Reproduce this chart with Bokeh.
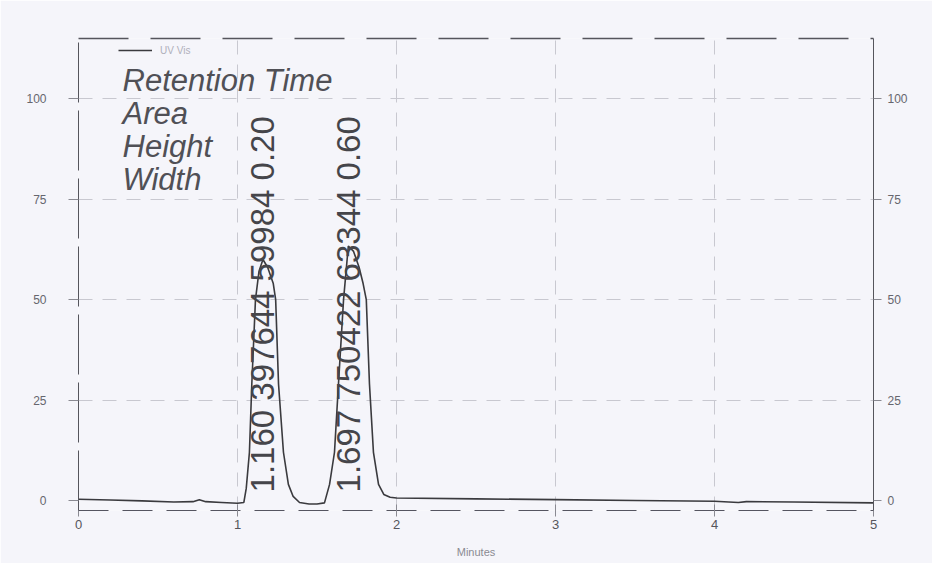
import math

from bokeh.plotting import figure
from bokeh.models import (Range1d, LinearAxis, FixedTicker, Label, Legend,
                          LegendItem, ColumnDataSource)
from bokeh.core.properties import value
from bokeh.embed import file_html
from bokeh.resources import INLINE

# UV-Vis chromatogram trace: time (min) and detector signal (mV)
time_min = [0.00, 0.20, 0.40, 0.60, 0.72, 0.76, 0.80, 0.90, 1.00, 1.040,
            1.055, 1.075, 1.090, 1.113, 1.135, 1.160, 1.190, 1.225, 1.240,
            1.258, 1.289, 1.320, 1.350, 1.390, 1.450, 1.500, 1.547, 1.579,
            1.610, 1.635, 1.667, 1.685, 1.697, 1.730, 1.765, 1.790, 1.810,
            1.830, 1.855, 1.887, 1.920, 1.960, 2.000, 2.500, 3.000, 3.500,
            4.000, 4.150, 4.200, 4.500, 5.000]
signal_mv = [0.3, 0.1, -0.1, -0.4, -0.3, 0.2, -0.3, -0.5, -0.7, -0.5,
             3.0, 12.0, 29.0, 50.0, 57.0, 59.984, 58.0, 54.0, 50.0,
             29.0, 12.0, 4.0, 1.0, -0.5, -0.9, -0.9, -0.6, 4.0,
             12.0, 29.0, 50.0, 58.0, 63.344, 62.0, 58.0, 54.0, 50.0,
             29.0, 12.0, 4.0, 1.5, 0.8, 0.6, 0.4, 0.2, 0.0,
             -0.2, -0.5, -0.3, -0.4, -0.6]

# integration results for the two peaks
peak_rt = [1.160, 1.697]
peak_area = [397644, 750422]
peak_height = [59984, 63344]
peak_width = [0.20, 0.60]

header_lines = ["Retention Time", "Area", "Height", "Width"]
y_ticks = [0, 25, 50, 75, 100]
x_ticks = [0, 1, 2, 3, 4, 5]

INK = "#3a3a3e"
PAPER = "#f5f5fa"
GREY = "#8a8a92"

p = figure(width=932, height=563, x_range=Range1d(0, 5), y_range=Range1d(-2.5, 115),
           output_backend="svg", toolbar_location=None,
           min_border_left=78, min_border_right=59, min_border_top=38,
           min_border_bottom=53, background_fill_color=PAPER,
           border_fill_color=PAPER, outline_line_color=None)

# trace
trace = p.line(time_min, signal_mv, line_color=INK, line_width=1.6)

# grid
p.xgrid.ticker = FixedTicker(ticks=x_ticks[1:-1])
p.ygrid.ticker = FixedTicker(ticks=y_ticks[1:])
for g in (p.xgrid, p.ygrid):
    g.grid_line_color = "#c8c8d0"
    g.grid_line_dash = "14 10"
    g.grid_line_width = 1

# bottom axis
xa = p.xaxis[0]
xa.ticker = FixedTicker(ticks=x_ticks)
xa.axis_label = "Minutes"
xa.axis_label_text_font = "Liberation Sans"
xa.axis_label_text_font_style = "normal"
xa.axis_label_text_font_size = "11px"
xa.axis_label_text_color = GREY
xa.axis_label_standoff = 14
xa.axis_line_color = "#555560"
xa.axis_line_dash = "30 14"
xa.axis_line_width = 1.2
xa.major_tick_in = 6
xa.major_tick_out = 6
xa.major_tick_line_color = GREY
xa.minor_tick_line_color = None
xa.major_label_text_font = "Liberation Sans"
xa.major_label_text_font_size = "13px"
xa.major_label_text_color = "#55555c"
xa.major_label_standoff = 3

# left axis
ya = p.yaxis[0]
ya.ticker = FixedTicker(ticks=y_ticks)
ya.axis_line_color = "#55555c"
ya.axis_line_dash = "60 8"
ya.major_tick_in = 0
ya.major_tick_out = 10
ya.major_tick_line_color = GREY
ya.minor_tick_line_color = None
ya.major_label_text_font = "Liberation Sans"
ya.major_label_text_font_size = "12px"
ya.major_label_text_color = "#66666e"
ya.major_label_standoff = 22

# right axis
ra = LinearAxis(ticker=FixedTicker(ticks=y_ticks))
ra.axis_line_color = "#55555c"
ra.major_tick_in = 0
ra.major_tick_out = 8
ra.major_tick_line_color = GREY
ra.minor_tick_line_color = None
ra.major_label_text_font = "Liberation Sans"
ra.major_label_text_font_size = "12px"
ra.major_label_text_color = "#66666e"
ra.major_label_standoff = 6
p.add_layout(ra, "right")

# top border as a bare dashed axis
ta = LinearAxis(ticker=FixedTicker(ticks=[]))
ta.axis_line_color = "#55555c"
ta.axis_line_width = 1.6
ta.axis_line_dash = "50 22"
ta.major_label_text_font_size = "0px"
ta.major_tick_line_color = None
ta.minor_tick_line_color = None
p.add_layout(ta, "above")

# legend
legend = Legend(items=[LegendItem(label="UV Vis", renderers=[trace])],
                location=(40, 454), orientation="horizontal",
                background_fill_alpha=0, border_line_alpha=0,
                label_text_font="Liberation Sans", label_text_font_size="10px",
                label_text_color="#b0b0ba", glyph_width=34, glyph_height=12,
                padding=0, margin=0, label_standoff=8)
p.add_layout(legend)

# result table headers
for i, line in enumerate(header_lines):
    p.add_layout(Label(x=44, y=430 - 33 * i, x_units="screen", y_units="screen",
                       text=line, text_font="Liberation Sans",
                       text_font_style="italic", text_font_size="31px",
                       text_color="#505056", text_baseline="alphabetic"))

# per-peak results written vertically from the baseline
peak_text = [f"{rt:.3f} {a} {h} {w:.2f}"
             for rt, a, h, w in zip(peak_rt, peak_area, peak_height, peak_width)]
src = ColumnDataSource(dict(rt=peak_rt, label=peak_text))
p.text(x="rt", y=2.0, text="label", source=src, angle=math.pi / 2,
       text_align="left", text_baseline="middle",
       text_font=value("Liberation Sans"), text_font_size="33px",
       text_color="#45454a")

open("out.html", "w").write(file_html(p, INLINE))
